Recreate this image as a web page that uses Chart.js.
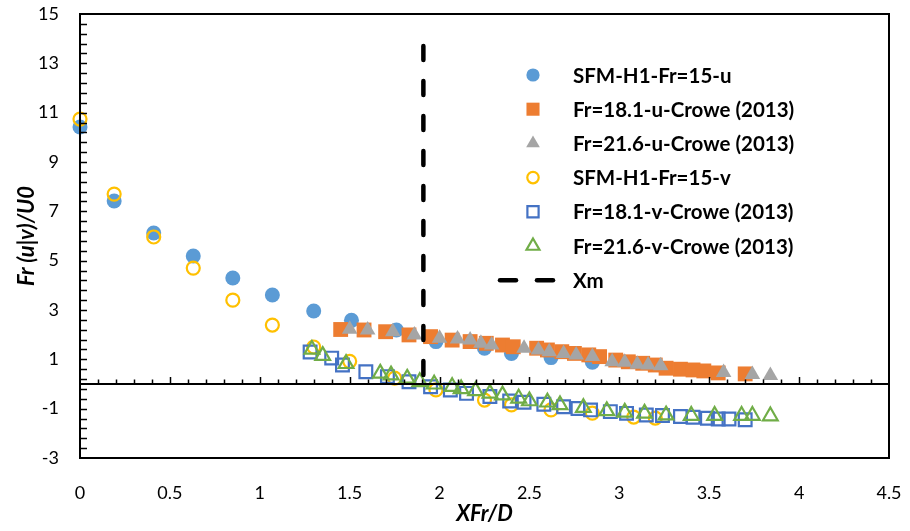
<!DOCTYPE html>
<html>
<head>
<meta charset="utf-8">
<title>Fr (u|v)/U0 vs XFr/D</title>
<script src="https://cdn.jsdelivr.net/npm/chart.js"></script>
<style>
  html, body { margin: 0; padding: 0; background: #fff; }
  #wrap { width: 910px; height: 531px; }
</style>
</head>
<body>
<div id="wrap"><canvas id="chart" width="910" height="531"></canvas></div>
<script>
// ===== DATA =====
const seriesNames = [
  'SFM-H1-Fr=15-u',
  'Fr=18.1-u-Crowe (2013)',
  'Fr=21.6-u-Crowe (2013)',
  'SFM-H1-Fr=15-v',
  'Fr=18.1-v-Crowe (2013)',
  'Fr=21.6-v-Crowe (2013)',
  'Xm'
];

const sfmUx = [0, 0.19, 0.41, 0.63, 0.85, 1.07, 1.30, 1.51, 1.76, 1.98, 2.25, 2.40, 2.62, 2.85];
const sfmUy = [10.42, 7.42, 6.12, 5.19, 4.30, 3.61, 2.96, 2.58, 2.19, 1.72, 1.45, 1.24, 1.07, 0.88];

const crowe18Ux = [1.45, 1.58, 1.70, 1.83, 1.95, 2.07, 2.17, 2.26, 2.35, 2.41, 2.54, 2.60, 2.68, 2.75, 2.83, 2.89, 2.98, 3.05, 3.13, 3.20, 3.26, 3.34, 3.41, 3.47, 3.55, 3.70];
const crowe18Uy = [2.21, 2.19, 2.12, 1.99, 1.92, 1.78, 1.72, 1.65, 1.58, 1.51, 1.45, 1.38, 1.31, 1.24, 1.18, 1.11, 0.97, 0.90, 0.84, 0.77, 0.64, 0.60, 0.57, 0.53, 0.45, 0.41];

const crowe21Ux = [1.50, 1.60, 1.74, 1.86, 2.00, 2.10, 2.17, 2.23, 2.29, 2.47, 2.55, 2.61, 2.69, 2.76, 2.85, 2.96, 3.03, 3.10, 3.16, 3.23, 3.58, 3.74, 3.84];
const crowe21Uy = [2.22, 2.19, 2.12, 1.99, 1.85, 1.82, 1.78, 1.65, 1.58, 1.45, 1.38, 1.31, 1.24, 1.18, 1.11, 0.90, 0.88, 0.80, 0.77, 0.74, 0.47, 0.39, 0.34];

const sfmVx = [0, 0.19, 0.41, 0.63, 0.85, 1.07, 1.30, 1.50, 1.75, 1.98, 2.25, 2.40, 2.62, 2.85, 3.08, 3.20];
const sfmVy = [10.74, 7.70, 5.96, 4.70, 3.40, 2.39, 1.50, 0.92, 0.24, -0.24, -0.65, -0.85, -1.05, -1.18, -1.34, -1.38];

const crowe18Vx = [1.28, 1.40, 1.46, 1.59, 1.71, 1.83, 1.95, 2.06, 2.15, 2.28, 2.39, 2.47, 2.58, 2.69, 2.77, 2.84, 2.95, 3.04, 3.15, 3.24, 3.34, 3.41, 3.49, 3.55, 3.61, 3.70];
const crowe18Vy = [1.30, 1.05, 0.77, 0.50, 0.30, 0.09, -0.11, -0.24, -0.38, -0.51, -0.69, -0.74, -0.82, -0.92, -0.99, -1.05, -1.12, -1.19, -1.26, -1.28, -1.32, -1.35, -1.39, -1.42, -1.42, -1.45];

const crowe21Vx = [1.29, 1.35, 1.48, 1.67, 1.73, 1.82, 1.89, 1.97, 2.07, 2.12, 2.20, 2.28, 2.35, 2.44, 2.50, 2.60, 2.67, 2.80, 2.93, 3.03, 3.14, 3.26, 3.40, 3.53, 3.68, 3.74, 3.84];
const crowe21Vy = [1.40, 1.15, 0.82, 0.43, 0.36, 0.23, 0.09, -0.01, -0.11, -0.20, -0.28, -0.38, -0.45, -0.58, -0.69, -0.74, -0.85, -0.96, -1.09, -1.15, -1.19, -1.26, -1.28, -1.28, -1.28, -1.28, -1.30];

const xmX = [1.91, 1.91];
const xmY = [13.7, 0];

const xTicks = [0, 0.5, 1, 1.5, 2, 2.5, 3, 3.5, 4, 4.5];
const yTicks = [-3, -1, 1, 3, 5, 7, 9, 11, 13, 15];

// ===== HELPERS =====
const FONT = 'Lato, "Open Sans", sans-serif';

function toPoints(xs, ys) {
  return xs.map((x, i) => ({ x: x, y: ys[i] }));
}

// Excel-ish draw order: later series sit on top
function scatterSet(idx, xs, ys, style) {
  return Object.assign({
    label: seriesNames[idx],
    data: toPoints(xs, ys),
    showLine: false,
    clip: false,
    order: 10 - idx
  }, style);
}

const datasets = [
  scatterSet(0, sfmUx, sfmUy, { pointStyle: 'circle', pointRadius: 7.5, backgroundColor: '#5B9BD5', borderColor: '#5B9BD5', borderWidth: 0 }),
  scatterSet(1, crowe18Ux, crowe18Uy, { pointStyle: 'rect', pointRadius: 10.5, backgroundColor: '#ED7D31', borderColor: '#ED7D31', borderWidth: 0 }),
  scatterSet(2, crowe21Ux, crowe21Uy, { pointStyle: 'triangle', pointRadius: 9, backgroundColor: '#A5A5A5', borderColor: '#A5A5A5', borderWidth: 0 }),
  scatterSet(3, sfmVx, sfmVy, { pointStyle: 'circle', pointRadius: 6.5, backgroundColor: 'rgba(0,0,0,0)', borderColor: '#FFC000', borderWidth: 2.2 }),
  scatterSet(4, crowe18Vx, crowe18Vy, { pointStyle: 'rect', pointRadius: 9, backgroundColor: 'rgba(0,0,0,0)', borderColor: '#4472C4', borderWidth: 2.2 }),
  scatterSet(5, crowe21Vx, crowe21Vy, { pointStyle: 'triangle', pointRadius: 8.5, backgroundColor: 'rgba(0,0,0,0)', borderColor: '#70AD47', borderWidth: 2.2 }),
  scatterSet(6, xmX, xmY, {
    showLine: true, pointRadius: 0, borderColor: '#000', borderWidth: 4.5,
    borderDash: [14, 21], borderCapStyle: 'round', fill: false
  })
];

// ===== FRAME, AXIS AT ZERO, TITLES, LEGEND =====
const decorPlugin = {
  id: 'decor',
  afterDatasetsDraw(chart) {
    const ctx = chart.ctx;
    const area = chart.chartArea;
    const xs = chart.scales.x;
    const ys = chart.scales.y;
    const y0 = ys.getPixelForValue(0);

    ctx.save();
    ctx.strokeStyle = '#000';

    // box
    ctx.lineWidth = 2;
    ctx.strokeRect(area.left, area.top, area.right - area.left, area.bottom - area.top);

    // horizontal axis at y = 0
    ctx.beginPath();
    ctx.moveTo(area.left, y0);
    ctx.lineTo(area.right, y0);
    ctx.stroke();

    // x ticks pointing up, minor 0.1 / major 0.5
    ctx.lineWidth = 1.5;
    for (let i = 1; i < 45; i++) {
      const px = Math.round(xs.getPixelForValue(i / 10)) + 0.5;
      const len = i % 5 === 0 ? 7 : 4.5;
      ctx.beginPath();
      ctx.moveTo(px, y0);
      ctx.lineTo(px, y0 - len);
      ctx.stroke();
    }

    // y ticks pointing right, every 0.4
    for (let i = 1; i < 45; i++) {
      const py = Math.round(ys.getPixelForValue(-3 + i * 0.4)) + 0.5;
      ctx.beginPath();
      ctx.moveTo(area.left, py);
      ctx.lineTo(area.left + 7, py);
      ctx.stroke();
    }

    // axis titles
    ctx.fillStyle = '#000';
    ctx.font = 'italic bold 22px ' + FONT;
    ctx.textAlign = 'center';
    ctx.textBaseline = 'middle';
    ctx.fillText('XFr/D', (area.left + area.right) / 2, 514);
    ctx.save();
    ctx.translate(27, 236);
    ctx.rotate(-Math.PI / 2);
    ctx.fillText('Fr (u|v)/U0', 0, 0);
    ctx.restore();

    // legend
    const lx = 533, tx = 573, ly0 = 75, step = 34.2;
    ctx.font = 'bold 20.5px ' + FONT;
    ctx.textAlign = 'left';
    chart.data.datasets.forEach((ds, i) => {
      const ly = ly0 + i * step;
      if (ds.showLine) {
        ctx.save();
        ctx.strokeStyle = ds.borderColor;
        ctx.lineWidth = ds.borderWidth;
        ctx.lineCap = 'round';
        [[500, 516], [537, 553]].forEach(seg => {
          ctx.beginPath();
          ctx.moveTo(seg[0], ly);
          ctx.lineTo(seg[1], ly);
          ctx.stroke();
        });
        ctx.restore();
      } else {
        ctx.save();
        ctx.fillStyle = ds.backgroundColor;
        ctx.strokeStyle = ds.borderColor;
        ctx.lineWidth = ds.borderWidth;
        Chart.helpers.drawPoint(ctx, {
          pointStyle: ds.pointStyle,
          radius: ds.pointRadius * 0.88,
          rotation: 0,
          borderWidth: ds.borderWidth
        }, lx, ly);
        ctx.restore();
      }
      ctx.fillStyle = '#000';
      ctx.fillText(ds.label, tx, ly + 1);
    });

    ctx.restore();
  }
};

// ===== CHART =====
const chart = new Chart(document.getElementById('chart'), {
  type: 'scatter',
  data: { datasets: datasets },
  options: {
    responsive: false,
    animation: false,
    devicePixelRatio: 1,
    layout: { padding: { top: 14, right: 21, left: 0, bottom: 0 } },
    plugins: {
      legend: { display: false },
      tooltip: { enabled: false }
    },
    scales: {
      x: {
        type: 'linear',
        min: 0,
        max: 4.5,
        afterFit: s => { s.height = 73; s.paddingLeft = 0; s.paddingRight = 0; },
        afterBuildTicks: s => { s.ticks = xTicks.map(v => ({ value: v })); },
        grid: { display: false, drawTicks: false },
        border: { display: false },
        ticks: {
          padding: 24,
          color: '#000',
          font: { family: FONT, size: 18 },
          callback: v => String(v)
        }
      },
      y: {
        type: 'linear',
        min: -3,
        max: 15,
        afterFit: s => { s.width = 80; s.paddingTop = 0; s.paddingBottom = 0; },
        afterBuildTicks: s => { s.ticks = yTicks.map(v => ({ value: v })); },
        grid: { display: false, drawTicks: false },
        border: { display: false },
        ticks: {
          padding: 21,
          color: '#000',
          font: { family: FONT, size: 18 },
          callback: v => String(v)
        }
      }
    }
  },
  plugins: [decorPlugin]
});
</script>
</body>
</html>
